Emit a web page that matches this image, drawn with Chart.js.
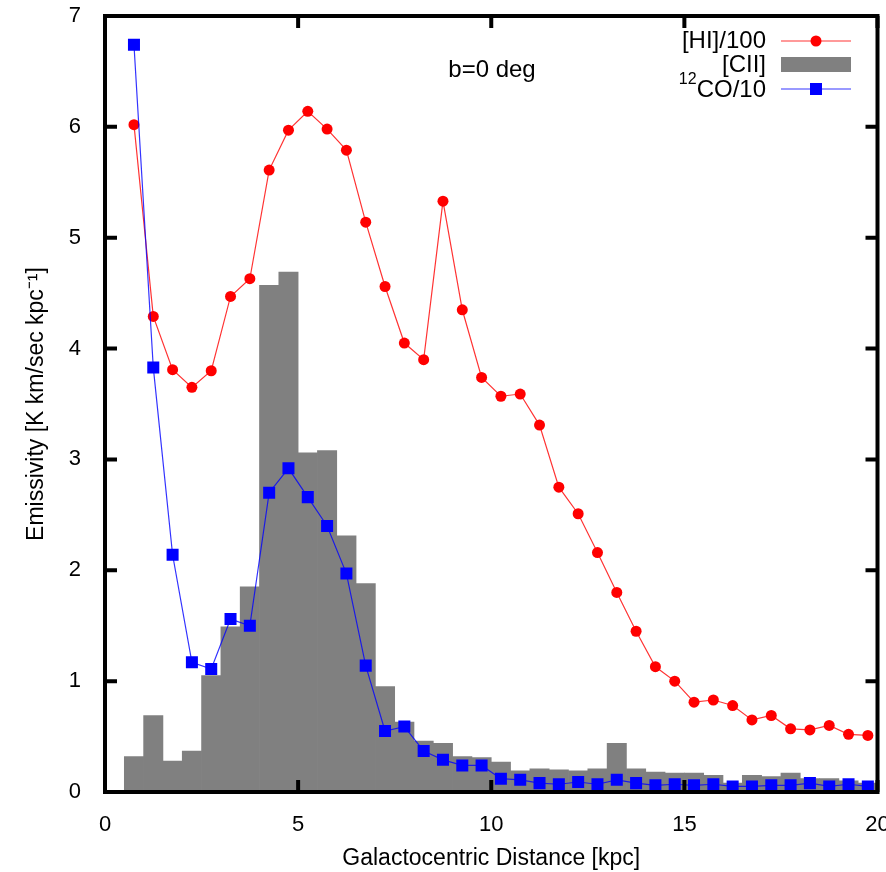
<!DOCTYPE html>
<html>
<head>
<meta charset="utf-8">
<script src="https://cdn.jsdelivr.net/npm/chart.js@4.4.1/dist/chart.umd.min.js"></script>
<style>
  html, body { margin: 0; padding: 0; background: #fff; }
  #wrap { width: 886px; height: 872px; }
</style>
</head>
<body>
<div id="wrap"><canvas id="emis" width="886" height="872"></canvas></div>
<script>
// galactocentric radius of each bin centre [kpc]
var radius = [0.75, 1.25, 1.75, 2.25, 2.75, 3.25, 3.75, 4.25, 4.75, 5.25,
              5.75, 6.25, 6.75, 7.25, 7.75, 8.25, 8.75, 9.25, 9.75, 10.25,
              10.75, 11.25, 11.75, 12.25, 12.75, 13.25, 13.75, 14.25, 14.75, 15.25,
              15.75, 16.25, 16.75, 17.25, 17.75, 18.25, 18.75, 19.25, 19.75];

// [HI]/100
var hiVals = [6.02, 4.29, 3.81, 3.65, 3.80, 4.47, 4.63, 5.61, 5.97, 6.14,
              5.98, 5.79, 5.14, 4.56, 4.05, 3.90, 5.33, 4.35, 3.74, 3.57,
              3.59, 3.31, 2.75, 2.51, 2.16, 1.80, 1.45, 1.13, 1.00, 0.81,
              0.83, 0.78, 0.65, 0.69, 0.57, 0.56, 0.60, 0.52, 0.51];

// [CII] histogram
var ciiVals = [0.32, 0.69, 0.28, 0.37, 1.05, 1.49, 1.85, 4.57, 4.69, 3.06,
               3.08, 2.31, 1.88, 0.95, 0.63, 0.46, 0.44, 0.32, 0.31, 0.27,
               0.19, 0.21, 0.20, 0.19, 0.21, 0.44, 0.21, 0.18, 0.17, 0.17,
               0.15, 0.08, 0.15, 0.14, 0.17, 0.12, 0.12, 0.10, 0.08];

// 12CO/10
var coVals = [6.74, 3.83, 2.14, 1.17, 1.11, 1.56, 1.50, 2.70, 2.92, 2.66,
              2.40, 1.97, 1.14, 0.55, 0.59, 0.37, 0.29, 0.24, 0.24, 0.12,
              0.11, 0.08, 0.07, 0.09, 0.07, 0.11, 0.08, 0.06, 0.07, 0.06,
              0.07, 0.05, 0.05, 0.06, 0.06, 0.08, 0.05, 0.07, 0.05];

var xTickVals = [0, 5, 10, 15, 20];
var yTickVals = [0, 1, 2, 3, 4, 5, 6, 7];

var FONT = '"Liberation Sans", Arial, Helvetica, sans-serif';

function pts(vals) {
    return vals.map(function (v, i) { return {x: radius[i], y: v}; });
}

// gnuplot-like box: thick frame, inward ticks on all sides, legend, label
var gnuFrame = {
    id: 'gnuFrame',
    afterDraw: function (chart) {
        var ctx = chart.ctx, a = chart.chartArea;
        var xs = chart.scales.x, ys = chart.scales.y;
        ctx.save();
        ctx.strokeStyle = '#000';
        ctx.lineWidth = 4;
        ctx.beginPath();
        xTickVals.forEach(function (v) {
            var px = xs.getPixelForValue(v);
            ctx.moveTo(px, a.bottom); ctx.lineTo(px, a.bottom - 12);
            ctx.moveTo(px, a.top); ctx.lineTo(px, a.top + 12);
        });
        yTickVals.forEach(function (v) {
            var py = ys.getPixelForValue(v);
            ctx.moveTo(a.left, py); ctx.lineTo(a.left + 12, py);
            ctx.moveTo(a.right, py); ctx.lineTo(a.right - 12, py);
        });
        ctx.stroke();
        ctx.strokeRect(a.left, a.top, a.right - a.left, a.bottom - a.top);

        // annotation
        ctx.fillStyle = '#000';
        ctx.font = '24px ' + FONT;
        ctx.textAlign = 'center';
        ctx.textBaseline = 'alphabetic';
        ctx.fillText('b=0 deg', 492, 77);

        // legend
        var tx = 766, lx0 = 781, lx1 = 851, mx = 816;
        ctx.textAlign = 'right';
        ctx.textBaseline = 'middle';
        ctx.fillText('[HI]/100', tx, 41);
        ctx.fillText('[CII]', tx, 65);
        ctx.fillText('CO/10', tx, 90);
        var w = ctx.measureText('CO/10').width;
        ctx.font = '16px ' + FONT;
        ctx.fillText('12', tx - w, 80);

        ctx.lineWidth = 1.2;
        ctx.strokeStyle = 'rgba(255,0,0,0.8)';
        ctx.beginPath(); ctx.moveTo(lx0, 41); ctx.lineTo(lx1, 41); ctx.stroke();
        ctx.fillStyle = '#ff0000';
        ctx.beginPath(); ctx.arc(mx, 41, 5.5, 0, Math.PI * 2); ctx.fill();

        ctx.fillStyle = '#808080';
        ctx.fillRect(lx0, 57, lx1 - lx0, 15);

        ctx.strokeStyle = 'rgba(0,0,255,0.8)';
        ctx.beginPath(); ctx.moveTo(lx0, 89); ctx.lineTo(lx1, 89); ctx.stroke();
        ctx.fillStyle = '#0000ff';
        ctx.fillRect(mx - 6, 83, 12, 12);
        ctx.restore();
    }
};

var ctx = document.getElementById('emis').getContext('2d');
var emisChart = new Chart(ctx, {
    type: 'line',
    data: {
        datasets: [
            {
                type: 'bar',
                label: '[CII]',
                data: pts(ciiVals),
                backgroundColor: '#808080',
                borderWidth: 0,
                barPercentage: 1.0,
                categoryPercentage: 1.0,
                order: 2
            },
            {
                label: '[HI]/100',
                data: pts(hiVals),
                borderColor: 'rgba(255,0,0,0.8)',
                borderWidth: 1.2,
                backgroundColor: '#ff0000',
                pointBackgroundColor: '#ff0000',
                pointBorderWidth: 0,
                pointStyle: 'circle',
                pointRadius: 5.5,
                tension: 0,
                fill: false,
                order: 1
            },
            {
                label: '12CO/10',
                data: pts(coVals),
                borderColor: 'rgba(0,0,255,0.8)',
                borderWidth: 1.2,
                backgroundColor: '#0000ff',
                pointBackgroundColor: '#0000ff',
                pointBorderWidth: 0,
                pointStyle: 'rect',
                pointRadius: 8.5,
                tension: 0,
                fill: false,
                order: 0
            }
        ]
    },
    options: {
        responsive: false,
        animation: false,
        events: [],
        layout: { padding: { top: 16, right: 7, left: 0, bottom: 0 } },
        plugins: {
            legend: { display: false },
            tooltip: { enabled: false }
        },
        scales: {
            x: {
                type: 'linear',
                min: 0,
                max: 20,
                offset: false,
                grid: { display: false },
                border: { display: false },
                afterBuildTicks: function (s) {
                    s.ticks = xTickVals.map(function (v) { return {value: v}; });
                },
                ticks: {
                    padding: 12,
                    color: '#000',
                    maxRotation: 0,
                    font: { family: FONT, size: 22 }
                },
                title: {
                    display: true,
                    text: 'Galactocentric Distance [kpc]',
                    color: '#000',
                    padding: { top: 4, bottom: 0 },
                    font: { family: FONT, size: 23 }
                },
                afterFit: function (s) {
                    s.height = 80;
                    s.paddingLeft = 0;
                    s.paddingRight = 0;
                }
            },
            y: {
                min: 0,
                max: 7,
                grid: { display: false },
                border: { display: false },
                afterBuildTicks: function (s) {
                    s.ticks = yTickVals.map(function (v) { return {value: v}; });
                },
                ticks: {
                    padding: 16,
                    color: '#000',
                    font: { family: FONT, size: 22 }
                },
                title: {
                    display: true,
                    text: 'Emissivity [K km/sec kpc\u207B\u00B9]',
                    color: '#000',
                    padding: { top: 23, bottom: 0 },
                    font: { family: FONT, size: 23 }
                },
                afterFit: function (s) {
                    s.width = 105;
                    s.paddingTop = 0;
                    s.paddingBottom = 0;
                }
            }
        }
    },
    plugins: [gnuFrame]
});
</script>
</body>
</html>
